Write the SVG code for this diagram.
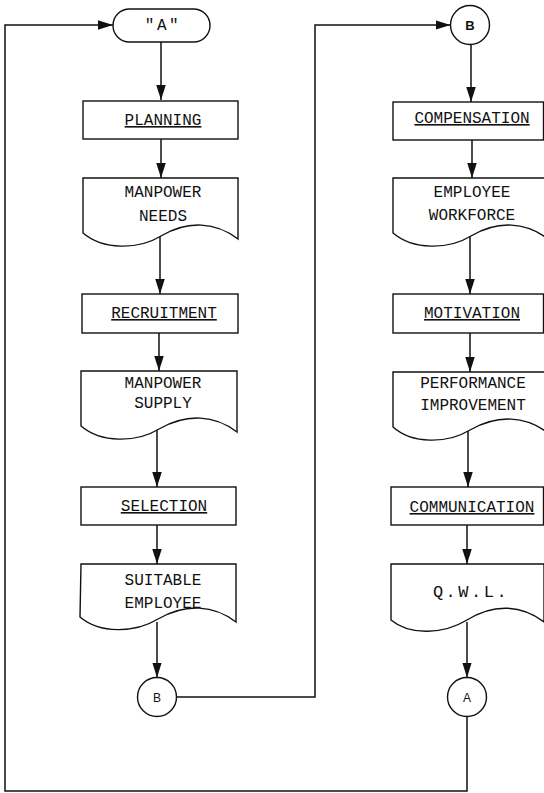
<svg xmlns="http://www.w3.org/2000/svg" width="544" height="793" viewBox="0 0 544 793">
<defs>
<marker id="ah" markerUnits="userSpaceOnUse" markerWidth="16" markerHeight="10" refX="15" refY="4.75" orient="auto">
<path d="M0,0 L15,4.75 L0,9.5 Z" fill="#111"/>
</marker>
<style>
.sh{fill:#fff;stroke:#111;stroke-width:1.4}
.cn{fill:none;stroke:#111;stroke-width:1.5}
.t{font-family:"Liberation Mono","DejaVu Sans Mono",monospace;font-size:16px;fill:#111;text-anchor:middle}
.u{text-decoration:underline}
.c{font-family:"Liberation Sans",Arial,sans-serif;font-size:12px;fill:#111;text-anchor:middle}
</style>
</defs>
<rect width="544" height="793" fill="#fff"/>
<g id="connectors">
<path class="cn" d="M161,42 V100" marker-end="url(#ah)"/>
<path class="cn" d="M161,139 V178" marker-end="url(#ah)"/>
<path class="cn" d="M160,236 V294" marker-end="url(#ah)"/>
<path class="cn" d="M159,333 V371" marker-end="url(#ah)"/>
<path class="cn" d="M157,429 V487" marker-end="url(#ah)"/>
<path class="cn" d="M157,525 V564" marker-end="url(#ah)"/>
<path class="cn" d="M157,622 V677.5" marker-end="url(#ah)"/>
<path class="cn" d="M176.5,697 H315 V25 H450.5" marker-end="url(#ah)"/>
<path class="cn" d="M471,44.5 V102" marker-end="url(#ah)"/>
<path class="cn" d="M472,140 V178" marker-end="url(#ah)"/>
<path class="cn" d="M470,236 V294" marker-end="url(#ah)"/>
<path class="cn" d="M470,333 V372" marker-end="url(#ah)"/>
<path class="cn" d="M468,430 V487" marker-end="url(#ah)"/>
<path class="cn" d="M467,525 V564" marker-end="url(#ah)"/>
<path class="cn" d="M467,622 V677.5" marker-end="url(#ah)"/>
<path class="cn" d="M467,716.5 V791 H5 V25 H113" marker-end="url(#ah)"/>
</g>
<g id="startA">
<rect class="sh" x="113" y="9" width="97" height="33" rx="16.5"/>
<text class="t" x="163" y="30" style="letter-spacing:2.5px">"A"</text>
</g>
<g id="planning">
<rect class="sh" x="83" y="101" width="155" height="38"/>
<text class="t u" x="163" y="125">PLANNING</text>
</g>
<g id="manpowerNeeds">
<path class="sh" d="M83,178 H238 V239 C216,222 188,220 161,236 C138,250 103,250 83,233 Z"/>
<text class="t" x="163" y="197">MANPOWER</text>
<text class="t" x="163" y="221">NEEDS</text>
</g>
<g id="recruitment">
<rect class="sh" x="82" y="294" width="156" height="39"/>
<text class="t u" x="164" y="318">RECRUITMENT</text>
</g>
<g id="manpowerSupply">
<path class="sh" d="M81,371 H237 V432 C215,415 187,413 159,429 C136,443 101,443 81,426 Z"/>
<text class="t" x="163" y="388">MANPOWER</text>
<text class="t" x="163" y="408">SUPPLY</text>
</g>
<g id="selection">
<rect class="sh" x="81" y="487" width="155" height="38"/>
<text class="t u" x="164" y="511">SELECTION</text>
</g>
<g id="suitableEmployee">
<path class="sh" d="M81,564 H236 V622 C214,605 186,603 158,619 C135,633 100,634 80,617 Z"/>
<text class="t" x="163" y="585">SUITABLE</text>
<text class="t" x="163" y="608">EMPLOYEE</text>
</g>
<g id="connB1">
<circle class="sh" cx="157" cy="697" r="19.5"/>
<text class="c" x="157" y="701.5">B</text>
</g>
<g id="connB2">
<circle class="sh" cx="470" cy="25" r="19.5"/>
<text class="c" x="470" y="29.5" style="font-weight:bold;font-size:13px">B</text>
</g>
<g id="compensation">
<rect class="sh" x="393" y="102" width="150.5" height="38"/>
<text class="t u" x="472" y="123">COMPENSATION</text>
</g>
<g id="employeeWorkforce">
<path class="sh" d="M393,178 H548 V239 C526,222 498,220 471,236 C448,250 413,250 393,233 Z"/>
<text class="t" x="472" y="197">EMPLOYEE</text>
<text class="t" x="472" y="220">WORKFORCE</text>
</g>
<g id="motivation">
<rect class="sh" x="393" y="294" width="150.5" height="39"/>
<text class="t u" x="472" y="318">MOTIVATION</text>
</g>
<g id="performanceImprovement">
<path class="sh" d="M393,372 H548 V433 C526,416 498,414 470,430 C447,444 412,444 393,427 Z"/>
<text class="t" x="473" y="388">PERFORMANCE</text>
<text class="t" x="473" y="410">IMPROVEMENT</text>
</g>
<g id="communication">
<rect class="sh" x="391" y="487" width="152.5" height="38"/>
<text class="t u" x="472" y="512">COMMUNICATION</text>
</g>
<g id="qwl">
<path class="sh" d="M391,564 H544 V622 C522,605 494,603 467,620 C444,634 410,636 391,620 Z"/>
<text class="t" x="471" y="597" style="font-size:17px;letter-spacing:2.5px">Q.W.L.</text>
</g>
<g id="connA">
<circle class="sh" cx="467" cy="697" r="19.5"/>
<text class="c" x="467" y="701.5">A</text>
</g>
</svg>
